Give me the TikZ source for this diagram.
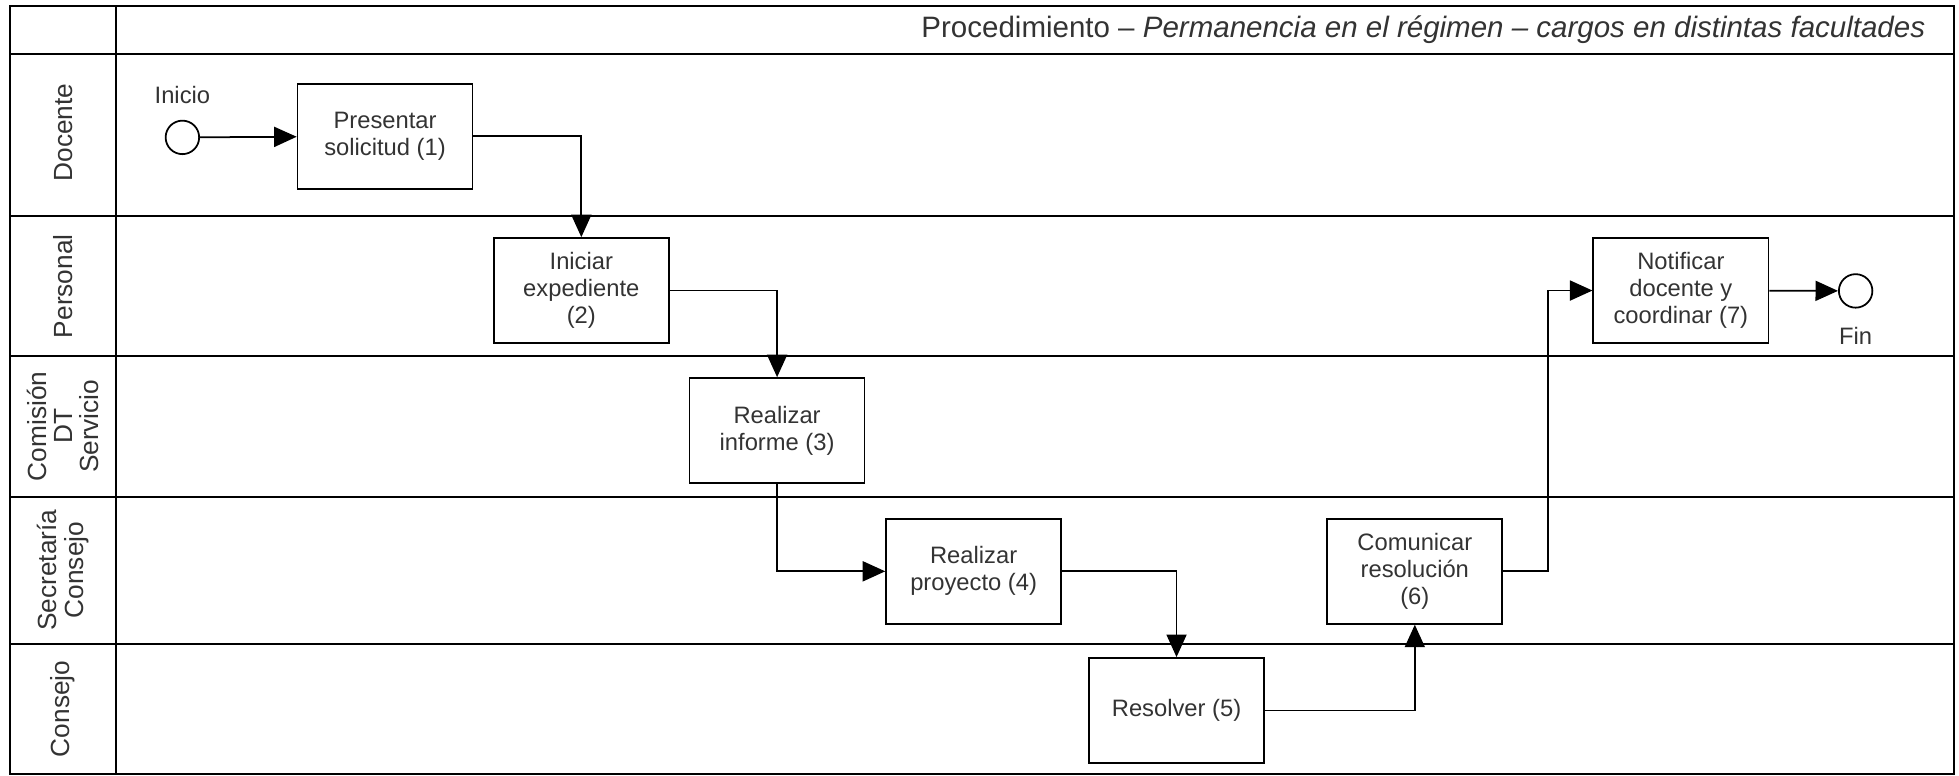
\documentclass[tikz,border=0pt]{standalone}
\usepackage{fontspec}
\setmainfont{Liberation Sans}
\usetikzlibrary{arrows.meta, positioning}

\begin{document}
\begin{tikzpicture}[x=0.5pt, y=-0.5pt,
    txt/.style={text=black!80, font=\fontsize{9.5}{10.8}\selectfont},
    task/.style={txt, draw, line width=0.7pt, minimum width=70pt, minimum height=42pt, align=center, inner sep=1pt},
    event/.style={draw, circle, line width=0.7pt, minimum size=13.4pt, inner sep=0pt},
    flow/.style={line width=0.7pt, -{Triangle[length=9pt, width=8pt]}},
    lane/.style={text=black!80, font=\fontsize{10.5}{10.5}\selectfont, rotate=90, align=center}]
    \useasboundingbox (0,0) rectangle (1567,620);
    % pool and lanes
    \draw[line width=0.9pt] (8,5) rectangle (1563,619);
    \draw[line width=0.9pt] (93,5) -- (93,619);
    \foreach \y in {43, 172.8, 285, 397.5, 515}
        \draw[line width=0.9pt] (8,\y) -- (1563,\y);
    \node[anchor=east, text=black!80, font=\fontsize{11.8}{14}\selectfont] (title) at (1547,24)
        {Procedimiento – \textit{Permanencia en el régimen – cargos en distintas facultades}};
    \node[lane] (docente) at (50.5,106) {Docente};
    \node[lane] (personal) at (50.5,229) {Personal};
    \node[lane] (comision) at (50.5,341) {Comisión\\DT\\Servicio};
    \node[lane] (secretaria) at (50.5,456) {Secretaría\\Consejo};
    \node[lane] (consejo) at (50.5,567) {Consejo};
    % events and tasks
    \node[event] (inicio) at (145.9,109.9) {};
    \node[txt, above=3pt of inicio] (inicio-lbl) {Inicio};
    \node[task] (p1) at (308,109) {Presentar\\solicitud (1)};
    \node[task] (p2) at (465,232.4) {Iniciar\\expediente\\(2)};
    \node[task] (p3) at (621.6,344.4) {Realizar\\informe (3)};
    \node[task] (p4) at (778.8,457) {Realizar\\proyecto (4)};
    \node[task] (p5) at (941.1,568.3) {Resolver (5)};
    \node[task] (p6) at (1131.7,457) {Comunicar\\resolución\\(6)};
    \node[task] (p7) at (1344.5,232.4) {Notificar\\docente y\\coordinar (7)};
    \node[event] (fin) at (1484.3,232.7) {};
    \node[txt, below=4pt of fin] (fin-lbl) {Fin};
    % flows
    \draw[flow] (inicio) -- (p1);
    \draw[flow] (p1.east) -| (p2.north);
    \draw[flow] (p2.east) -| (p3.north);
    \draw[flow] (p3.south) |- (p4.west);
    \draw[flow] (p4.east) -| (p5.north);
    \draw[flow] (p5.east) -| (p6.south);
    \draw[flow] (p6.east) -- ++(36,0) |- (p7.west);
    \draw[flow] (p7) -- (fin);
\end{tikzpicture}
\end{document}
